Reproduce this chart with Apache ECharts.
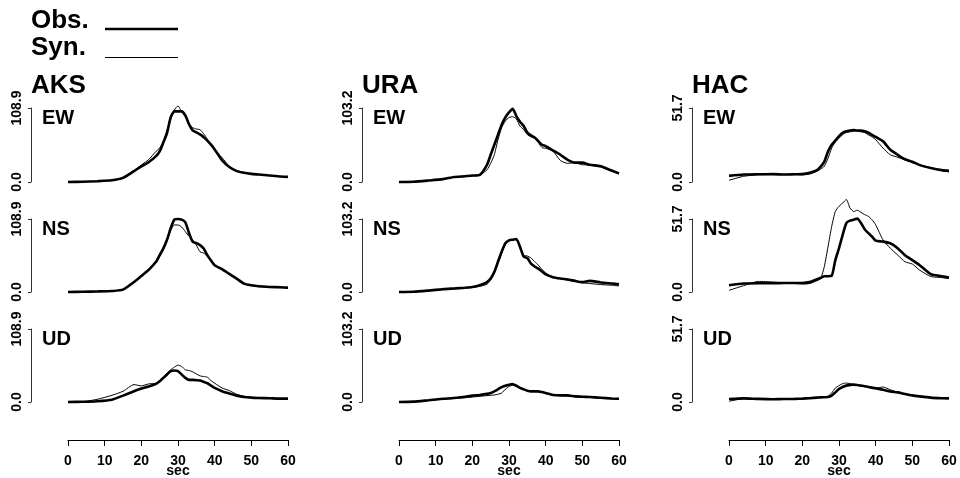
<!DOCTYPE html>
<html><head><meta charset="utf-8">
<script src="https://cdn.jsdelivr.net/npm/echarts@6/dist/echarts.min.js"></script>
<style>html,body{margin:0;padding:0;background:#fff}#c{width:960px;height:478px}</style>
</head><body><div id="c"></div>
<script>
// ---- data ----
const T = [0,4,8,12,15,18,20,22,24,25,26,27,28,29,30,31,32,33,34,35,36,37,38,39,40,42,44,46,48,50,52,55,58,60];
const stations = ['AKS','URA','HAC'];
const components = ['EW','NS','UD'];
const yMax = [108.9, 103.2, 51.7];
const xTicks = [0,10,20,30,40,50,60];
const legendNames = ['Obs.','Syn.'];

const aksEwObs = [0,0.4,1.2,2.5,6,16,23,29,38,45,58,72,95,104,104,104,98,85,76,73,70,66,61,55,48,32,22,16,13.5,12,11,9.5,8,7.5];
const aksEwSyn = [0,0.4,1.3,2.8,7,17,25,33,45,50,60,76,92,106,112,103,96,86,80,78,77,71,63,55,47,36,23,17,14,12,11,9.5,8,7];
const aksNsObs = [0,0.3,0.8,1.5,3.5,15,24,33,45,55,65,78,95,108,109,108,104,88,75,73,70,65,55,47,40,34,27,20,12.5,10,8.5,7.5,7,6.5];
const aksNsSyn = [0,0.3,0.8,1.5,3.5,14,23,32,44,53,63,76,92,100,100,97,90,83,78,70,60,58,53,47,40,33,26,19,12,9.5,8,7,6.5,6];
const aksUdObs = [0,0.3,1.2,3.5,9.5,16,20,23,27,31,36,41,46,47,46,41,36,33,33,32.5,32,30,28,24.5,21,16,12.5,9.5,7.5,6.5,6,5.5,5,5];
const aksUdSyn = [0,0.5,4,10,16,26,24,27,28,32,37,43,48,52,55,53,48,47,45,42,39,38,37,32,28,21,17,11.5,8.5,7,6,5.5,5,5];

const uraEwObs = [0,0.3,2,4,7,8,9,10,24,38,52,66,80,90,97,102,92,84,78,69,65,62,57,52,50,44,38,31,27,27,24,22,16,12];
const uraEwSyn = [0,0.3,2,4,6.5,7.5,8.5,9.5,17,26,38,59,76,85,90,91,88,78,73,66,63,61,55,48,47,43,30,26,27,24,24,21,15,11];
const uraNsObs = [0,0.3,2,4,5,6,7,9.5,14,19,28.5,43,57,69,73,74,75,64,50,48,40,36,33,29,25,21,19,17.6,15.7,14,15.7,13.5,12,11];
const uraNsSyn = [0,0.3,1.8,3.5,4.5,5.5,6.5,8,11,17,26,40,55,67,72,74,74,62,52,51,48,43,38,32,27,21,19,16.7,15,13,12,10.5,9.5,8.5];
const uraUdObs = [0,0.5,2.5,4.5,5.7,7.5,9,10,11.5,12.7,15,18,21,23,24.5,25.5,23,20,18,16,15,15,15,14,12.7,10,9.4,9.4,8,7.5,7,6,5,4.7];
const uraUdSyn = [0,0.5,2.3,4,5,6,7,8,9,9.4,10,11,12.7,18,22,23.6,22,20,18,16,15,15,14.5,13.5,12,9.5,9,8.5,7.5,7,6.5,5.5,4.5,4.2];

const hacEwObs = [4.3,5.2,5.4,5.5,5.2,5.4,5.5,6.4,8.3,10.7,14.2,21.3,26,29,32,34.4,35.5,36,36.3,36,36,35.5,34.4,33,31.5,28.4,22.5,19,15.9,14.2,11.8,9.8,8.3,7.8];
const hacEwSyn = [1.2,4,5,5.2,5.3,5.2,5,5.5,7.5,9,11,16.6,23.7,28,30.6,33,34.5,35,35.5,35.5,35,34.5,33,31.5,29.6,23.7,19,17.3,15.4,13.5,12,10,8,7.1];
const hacNsObs = [4.8,6,6.2,6.2,6.4,6.4,6.4,7,9,10,11.2,11.2,11.4,22.6,31,40.5,48.8,50.5,51.2,52,48.8,44.5,41.7,39.3,36.4,35.7,34.5,31,26,22.6,19,12.7,11.2,10.2];
const hacNsSyn = [1.2,4.5,7.5,7.1,6.4,6,5.7,6,8,9.5,18,32,46.4,57,60.7,63,65.5,59.5,57,57.9,56.4,54.8,53.6,51.2,47.6,36.9,31,26.2,21.4,19.8,15.5,11,10.2,9.5];
const hacUdObs = [2.1,2.6,2.2,2,2.1,2.2,2.4,2.7,3.1,3.3,3.4,3.5,4.5,6.8,9.2,10.6,11.6,12,12.3,12,11.6,11.2,10.6,10.2,9.7,8.7,7.5,6.8,5.7,4.7,4,3.1,2.7,2.6];
const hacUdSyn = [0.5,2.4,2.2,2,2,2.1,2.3,2.6,3,3.4,3.6,4,6.4,9.9,11.6,13,13.4,13,12.5,12,11.6,11.2,10.8,10.3,9.9,10.6,8.7,6.8,5.5,4.5,3.8,3,2.6,2.5];

const panelData = [
  [[aksEwObs,aksEwSyn],[aksNsObs,aksNsSyn],[aksUdObs,aksUdSyn]],
  [[uraEwObs,uraEwSyn],[uraNsObs,uraNsSyn],[uraUdObs,uraUdSyn]],
  [[hacEwObs,hacEwSyn],[hacNsObs,hacNsSyn],[hacUdObs,hacUdSyn]]
];

// ---- layout ----
const FONT = '"Liberation Sans", Arial, Helvetica, sans-serif';
const colLeft = [68, 399, 729];
const rowTop = [108, 219, 329];
const rowH = [74, 73, 73];
const plotW = 220;
const yOff = 37;

const grids = [], xAxes = [], yAxes = [], series = [], graphics = [];
let k = 0;
for (let c = 0; c < 3; c++) {
  for (let r = 0; r < 3; r++) {
    grids.push({left: colLeft[c], top: rowTop[r], width: plotW, height: rowH[r], outerBoundsMode: 'none', containLabel: false});
    const bottom = r === 2;
    xAxes.push({
      gridIndex: k, type: 'value', min: xTicks[0], max: xTicks[xTicks.length-1], interval: xTicks[1]-xTicks[0],
      show: bottom, offset: 38,
      axisLine: {show: true, onZero: false, lineStyle: {color: '#000', width: 1}},
      axisTick: {show: true, length: 6, lineStyle: {color: '#000', width: 1}},
      axisLabel: {show: true, margin: 14, color: '#000', fontSize: 14, fontWeight: 'bold', fontFamily: FONT},
      splitLine: {show: false},
      name: bottom ? 'sec' : '', nameLocation: 'middle', nameGap: 24, nameMoveOverlap: false,
      nameTextStyle: {color: '#000', fontSize: 14, fontWeight: 'bold', fontFamily: FONT}
    });
    yAxes.push({
      gridIndex: k, type: 'value', min: 0, max: yMax[c], interval: yMax[c], offset: yOff,
      axisLine: {show: true, onZero: false, lineStyle: {color: '#333', width: 1}},
      axisTick: {show: true, length: 3, lineStyle: {color: '#333', width: 1}},
      axisLabel: {show: true, rotate: 90, margin: 7, color: '#000', fontSize: 14, fontWeight: 'bold', fontFamily: FONT,
                  formatter: v => v.toFixed(1)},
      splitLine: {show: false}
    });
    const [obs, syn] = panelData[c][r];
    series.push({
      type: 'line', name: legendNames[0], xAxisIndex: k, yAxisIndex: k,
      data: T.map((t, i) => [t, obs[i]]), showSymbol: false, symbol: 'none', clip: false, smooth: 0.2,
      lineStyle: {color: '#000', width: 2.6}, z: 2, silent: true
    });
    series.push({
      type: 'line', name: legendNames[1], xAxisIndex: k, yAxisIndex: k,
      data: T.map((t, i) => [t, syn[i]]), showSymbol: false, symbol: 'none', clip: false, smooth: 0.2,
      lineStyle: {color: '#000', width: 1}, z: 3, silent: true
    });
    graphics.push({type: 'text', left: colLeft[c] - yOff + 11, top: rowTop[r],
      style: {text: components[r], fill: '#000', font: 'bold 20px ' + FONT}});
    k++;
  }
  graphics.push({type: 'text', left: colLeft[c] - yOff, top: 73,
    style: {text: stations[c], fill: '#000', font: 'bold 26px ' + FONT}});
}
// legend
graphics.push({type: 'text', left: 31, top: 8, style: {text: legendNames[0], fill: '#000', font: 'bold 26px ' + FONT}});
graphics.push({type: 'text', left: 31, top: 35, style: {text: legendNames[1], fill: '#000', font: 'bold 26px ' + FONT}});
graphics.push({type: 'line', shape: {x1: 105, y1: 29, x2: 178, y2: 29}, style: {stroke: '#000', lineWidth: 2.7}});
graphics.push({type: 'line', shape: {x1: 105, y1: 57.5, x2: 178, y2: 57.5}, style: {stroke: '#000', lineWidth: 1}});

const chart = echarts.init(document.getElementById('c'), null, {renderer: 'canvas'});
chart.setOption({
  animation: false,
  backgroundColor: '#fff',
  textStyle: {fontFamily: FONT},
  grid: grids, xAxis: xAxes, yAxis: yAxes, series: series, graphic: graphics
});
</script></body></html>
